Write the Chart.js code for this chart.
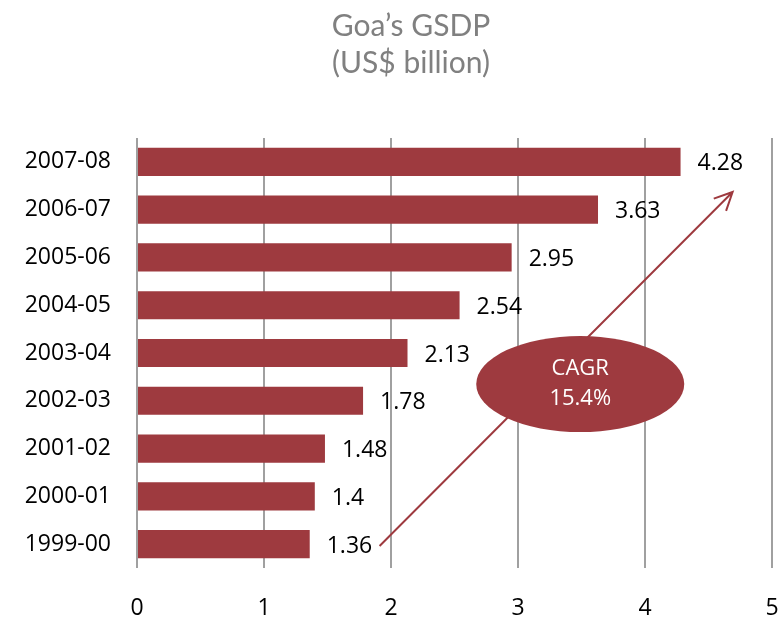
<!DOCTYPE html>
<html>
<head>
<meta charset="utf-8">
<title>Goa's GSDP</title>
<script src="https://cdn.jsdelivr.net/npm/chart.js@4.4.1/dist/chart.umd.min.js"></script>
<style>
  html, body { margin: 0; padding: 0; background: #fff; }
  #wrap { width: 784px; height: 618px; }
</style>
</head>
<body>
<div id="wrap"><canvas id="gsdpChart" width="784" height="618"></canvas></div>
<script>
// data, top bar first
const years = ["2007-08", "2006-07", "2005-06", "2004-05", "2003-04", "2002-03", "2001-02", "2000-01", "1999-00"];
const gsdp = [4.28, 3.63, 2.95, 2.54, 2.13, 1.78, 1.48, 1.4, 1.36];
const xTicks = [0, 1, 2, 3, 4, 5];
const titleLines = ["Goa’s GSDP", "(US$ billion)"];
const cagrLines = ["CAGR", "15.4%"];

// arrow from / to, in axis units (x value, category index)
const arrowFrom = [1.91, 8.04];
const arrowTo = [4.69, 0.63];
const ellipseAt = [3.49, 4.65];

const barColor = "#9e3a3f";

// labels at the end of each bar + title
const extrasPlugin = {
  id: "extras",
  afterDatasetsDraw(chart) {
    const ctx = chart.ctx;
    const meta = chart.getDatasetMeta(0);
    ctx.save();
    ctx.font = "23px 'Open Sans'";
    ctx.fillStyle = "#000";
    ctx.textAlign = "left";
    ctx.textBaseline = "middle";
    meta.data.forEach((bar, i) => {
      ctx.fillText(String(gsdp[i]), bar.x + 17, bar.y + 2);
    });
    ctx.restore();
  },
  afterDraw(chart) {
    const ctx = chart.ctx;
    const xs = chart.scales.x;
    const ys = chart.scales.y;

    ctx.save();
    // title
    ctx.font = "30px Lato";
    ctx.fillStyle = "#808080";
    ctx.textAlign = "center";
    ctx.textBaseline = "middle";
    ctx.fillText(titleLines[0], 411, 26);
    ctx.fillText(titleLines[1], 411, 63);

    // arrow
    const x1 = xs.getPixelForValue(arrowFrom[0]);
    const y1 = ys.getPixelForValue(arrowFrom[1]);
    const x2 = xs.getPixelForValue(arrowTo[0]);
    const y2 = ys.getPixelForValue(arrowTo[1]);
    ctx.strokeStyle = barColor;
    ctx.lineWidth = 2;
    ctx.beginPath();
    ctx.moveTo(x1, y1);
    ctx.lineTo(x2, y2);
    const ang = Math.atan2(y2 - y1, x2 - x1);
    const head = 20;
    ctx.moveTo(x2 - head * Math.cos(ang - 0.45), y2 - head * Math.sin(ang - 0.45));
    ctx.lineTo(x2, y2);
    ctx.lineTo(x2 - head * Math.cos(ang + 0.45), y2 - head * Math.sin(ang + 0.45));
    ctx.stroke();

    // CAGR bubble
    const ex = xs.getPixelForValue(ellipseAt[0]);
    const ey = ys.getPixelForValue(ellipseAt[1]);
    ctx.fillStyle = barColor;
    ctx.beginPath();
    ctx.ellipse(ex, ey, 104, 48, 0, 0, Math.PI * 2);
    ctx.fill();
    ctx.fillStyle = "#fff";
    ctx.font = "22px 'Open Sans'";
    ctx.fillText(cagrLines[0], ex, ey - 15);
    ctx.fillText(cagrLines[1], ex, ey + 15);
    ctx.restore();
  }
};

new Chart(document.getElementById("gsdpChart"), {
  type: "bar",
  data: {
    labels: years,
    datasets: [{
      data: gsdp,
      backgroundColor: barColor,
      borderWidth: 0,
      barPercentage: 1,
      categoryPercentage: 0.59
    }]
  },
  options: {
    indexAxis: "y",
    responsive: false,
    animation: false,
    layout: { padding: { top: 138, right: 12, left: 0, bottom: 0 } },
    plugins: {
      legend: { display: false },
      title: { display: false },
      tooltip: { enabled: false }
    },
    scales: {
      x: {
        min: 0,
        max: 5,
        afterBuildTicks: (s) => { s.ticks = xTicks.map(v => ({ value: v })); },
        afterFit: (s) => { s.height = 50; s.paddingLeft = 0; s.paddingRight = 0; },
        grid: { color: "#a0a0a0", lineWidth: 2, drawTicks: false },
        border: { display: false },
        ticks: { color: "#000", font: { family: "Open Sans", size: 23 }, padding: 27, maxRotation: 0 }
      },
      y: {
        afterFit: (s) => { s.width = 137; s.paddingTop = 0; s.paddingBottom = 0; },
        grid: { display: false, drawTicks: false },
        border: { display: false },
        ticks: { color: "#000", font: { family: "Open Sans", size: 23 }, padding: 26 }
      }
    }
  },
  plugins: [extrasPlugin]
});
</script>
</body>
</html>
